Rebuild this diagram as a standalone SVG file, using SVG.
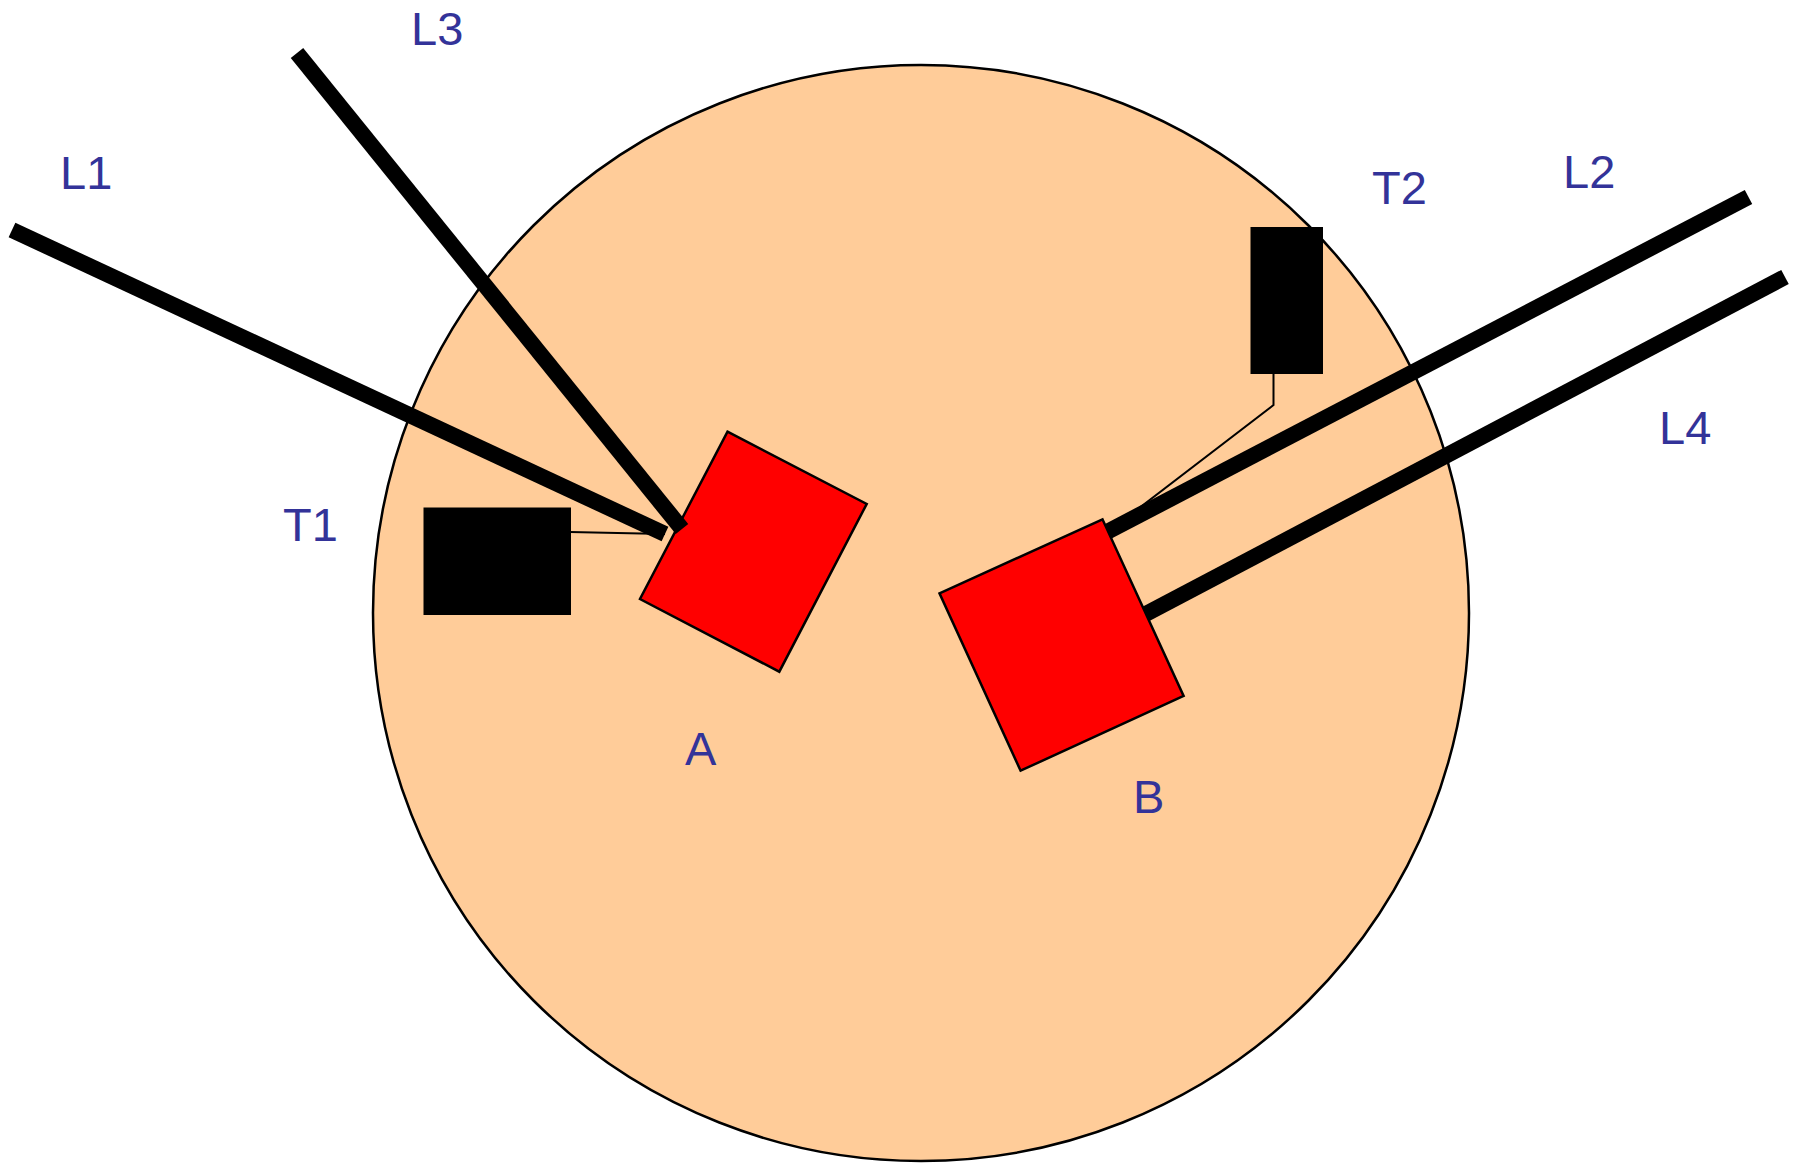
<svg xmlns="http://www.w3.org/2000/svg" width="1800" height="1163" viewBox="0 0 1800 1163">
<style>
.lbl{font-family:"Liberation Sans",Arial,sans-serif;font-size:47px;fill:#333399}
.node{fill:#ff0000;stroke:#000;stroke-width:2.5}
.term{fill:#000;stroke:#000;stroke-width:1}
.lead{fill:none;stroke:#000;stroke-width:16;stroke-linecap:butt}
.wire{fill:none;stroke:#000;stroke-width:2}
</style>
<rect width="1800" height="1163" fill="#fff"/>
<g id="region">
<circle cx="921" cy="613" r="548" fill="#ffcc99" stroke="#000" stroke-width="2.5"/>
</g>
<g id="A">
<polygon class="node" points="727.5,431.7 866.7,504 779.3,671.7 640,599"/>
<text class="lbl" x="685" y="765">A</text>
</g>
<g id="connectors">
<line class="lead" x1="12" y1="230" x2="665" y2="534"/>
<line class="lead" x1="297" y1="53" x2="682" y2="529"/>
<polyline class="wire" points="570,532 665,534"/>
<line class="lead" x1="1748.5" y1="197" x2="1105" y2="533"/>
<line class="lead" x1="1785" y1="277" x2="1140" y2="617"/>
<polyline class="wire" points="1273.5,373 1273.5,405 1134,512"/>
</g>
<g id="B">
<polygon class="node" points="939.5,593.3 1102.5,519.3 1183.6,696 1020.6,770.7"/>
<text class="lbl" x="1133" y="813">B</text>
</g>
<g id="T1">
<rect class="term" x="424" y="508" width="146.5" height="106.5"/>
<text class="lbl" x="283" y="541">T1</text>
</g>
<g id="T2">
<rect class="term" x="1251" y="227.5" width="71.5" height="146"/>
<text class="lbl" x="1372" y="204">T2</text>
</g>
<g id="L1"><text class="lbl" x="60" y="189">L1</text></g>
<g id="L3"><text class="lbl" x="411" y="45">L3</text></g>
<g id="L2"><text class="lbl" x="1563" y="188">L2</text></g>
<g id="L4"><text class="lbl" x="1659" y="444">L4</text></g>
</svg>
